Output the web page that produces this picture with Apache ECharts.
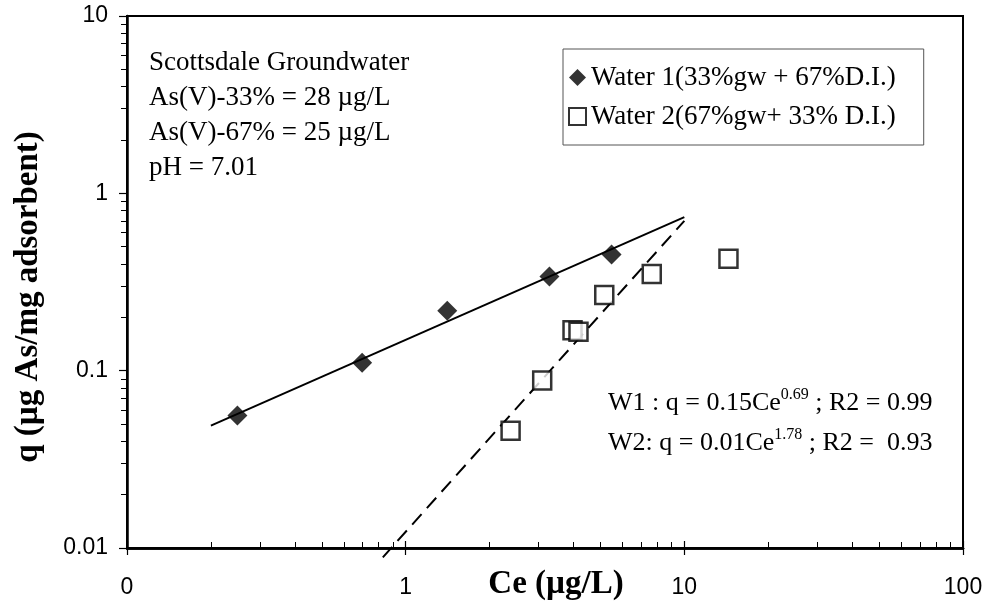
<!DOCTYPE html>
<html>
<head>
<meta charset="utf-8">
<script src="https://cdn.jsdelivr.net/npm/echarts@6/dist/echarts.min.js"></script>
<style>html,body{margin:0;padding:0;background:#fff}#c{width:989px;height:612px}</style>
</head>
<body>
<div id="c"></div>
<script>
// Data
const w1Ce = [0.249, 0.698, 1.41, 3.28, 5.48];
const w1Q  = [0.0559, 0.111, 0.218, 0.340, 0.452];
const w2Ce = [2.38, 3.09, 3.97, 4.17, 5.16, 7.64, 14.4];
const w2Q  = [0.0459, 0.0881, 0.169, 0.166, 0.267, 0.351, 0.428];
// fitted lines (end points)
const fit1Ce = [0.2, 10];
const fit1Q  = [0.049, 0.735];
const fit2Ce = [0.828, 10];
const fit2Q  = [0.00886, 0.70];
const xTicks = [0.1, 1, 10, 100];
const xTickLabels = ['0', '1', '10', '100'];
const yTicks = [0.01, 0.1, 1, 10];
const yTickLabels = ['0.01', '0.1', '1', '10'];
const name1 = 'Water 1(33%gw + 67%D.I.)';
const name2 = 'Water 2(67%gw+ 33% D.I.)';
const infoLines = ['Scottsdale Groundwater', 'As(V)-33% = 28 \u00b5g/L', 'As(V)-67% = 25 \u00b5g/L', 'pH = 7.01'];

const zip = (a, b) => a.map((v, i) => [v, b[i]]);
const serif = '"Liberation Serif", "DejaVu Serif", serif';
const sans = '"Liberation Sans", Arial, sans-serif';

function xFmt(v) {
  for (let i = 0; i < xTicks.length; i++) if (Math.abs(v - xTicks[i]) < 1e-9) return xTickLabels[i];
  return '';
}
function yFmt(v) {
  for (let i = 0; i < yTicks.length; i++) if (Math.abs(v - yTicks[i]) < 1e-12) return yTickLabels[i];
  return '';
}

const chart = echarts.init(document.getElementById('c'), null, {renderer: 'canvas'});
const axisBase = {
  type: 'log', logBase: 10,
  axisLine: {lineStyle: {color: '#000', width: 2.5}},
  splitLine: {show: false}
};
chart.setOption({
  animation: false,
  backgroundColor: '#fff',
  grid: {left: 127, right: 26, top: 16, bottom: 64, containLabel: false, outerBoundsMode: 'none',
         show: true, borderColor: '#000', borderWidth: 2},
  xAxis: [
    Object.assign({}, axisBase, {
      min: 0.1, max: 100, position: 'bottom',
      axisTick: {show: true, length: 7, lineStyle: {color: '#000', width: 1.2}},
      axisLabel: {formatter: xFmt, color: '#000', fontFamily: sans, fontSize: 23, margin: 28}
    }),
    Object.assign({}, axisBase, {
      min: 0.1, max: 100, position: 'bottom',
      axisTick: {show: true, inside: true, length: 7, lineStyle: {color: '#000', width: 1.2}},
      minorTick: {show: true, splitNumber: 9, length: 6, lineStyle: {color: '#000', width: 1}},
      axisLabel: {show: false}
    })
  ],
  yAxis: [
    Object.assign({}, axisBase, {
      min: 0.01, max: 10,
      axisTick: {show: true, length: 8, lineStyle: {color: '#000', width: 1.2}},
      minorTick: {show: true, splitNumber: 9, length: 6, lineStyle: {color: '#000', width: 1}},
      axisLabel: {formatter: yFmt, color: '#000', fontFamily: sans, fontSize: 23, margin: 19}
    })
  ],
  legend: {
    orient: 'vertical', left: 563, top: 49,
    padding: [15, 28, 15, 5], itemGap: 12,
    borderColor: '#555', borderWidth: 1,
    itemWidth: 17, itemHeight: 17,
    textStyle: {fontFamily: serif, fontSize: 27, color: '#000'},
    data: [
      {name: name1, icon: 'diamond', itemStyle: {color: '#000'}},
      {name: name2, icon: 'rect', itemStyle: {color: '#fff', borderColor: '#000', borderWidth: 2}}
    ]
  },
  graphic: [
    {type: 'text', left: 149, top: 46, style: {text: infoLines.join('\n'), font: '27px ' + serif, lineHeight: 34.7, fill: '#000'}},
    {type: 'text', left: 608, top: 383, style: {
      text: 'W1 : q = 0.15Ce{sup|0.69} ; R2 = 0.99\nW2: q = 0.01Ce{sup|1.78} ; R2 =  0.93',
      font: '26px ' + serif, lineHeight: 40, fill: '#000',
      rich: {sup: {fontSize: 16, fontFamily: serif, padding: [0, 0, 16, 0], lineHeight: 40}}
    }},
    {type: 'text', x: 556, y: 584, style: {text: 'Ce (\u00b5g/L)', font: 'bold 33px ' + serif, fill: '#000', align: 'center', verticalAlign: 'middle'}},
    {type: 'text', x: 28, y: 297, rotation: Math.PI / 2, style: {text: 'q (\u00b5g As/mg adsorbent)', font: 'bold 33px ' + serif, fill: '#000', align: 'center', verticalAlign: 'middle'}}
  ],
  series: [
    {type: 'line', name: 'fit1', data: zip(fit1Ce, fit1Q), showSymbol: false, symbol: 'none',
     lineStyle: {color: '#000', width: 2}, silent: true, z: 2},
    {type: 'line', name: 'fit2', data: zip(fit2Ce, fit2Q), showSymbol: false, symbol: 'none', clip: false,
     lineStyle: {color: '#000', width: 2, type: [14, 8]}, silent: true, z: 2},
    {type: 'scatter', name: name1, data: zip(w1Ce, w1Q), symbol: 'diamond', symbolSize: 20,
     itemStyle: {color: '#000'}, z: 3},
    {type: 'scatter', name: name2, data: zip(w2Ce, w2Q), symbol: 'rect', symbolSize: 18,
     itemStyle: {color: '#fff', borderColor: '#000', borderWidth: 2.5}, z: 3}
  ]
});
</script>
</body>
</html>
